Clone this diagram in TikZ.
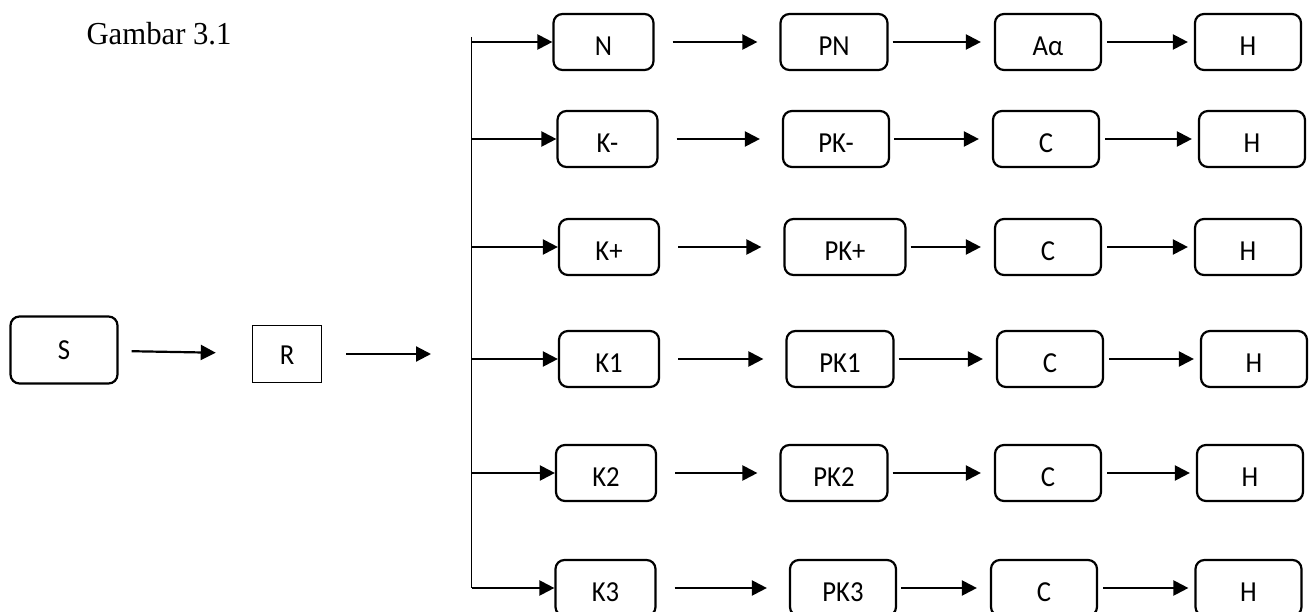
\documentclass[tikz,border=0pt]{standalone}
\usepackage{fontspec}
\newfontfamily\boxfont{Carlito}[FakeStretch=0.92]
\newfontfamily\capfont{Liberation Serif}[FakeStretch=0.96]
\usetikzlibrary{arrows.meta}
\begin{document}
\begin{tikzpicture}[x=1pt,y=-1pt,
  box/.style={draw,line width=2.2pt,rounded corners=9pt,minimum width=106pt,minimum height=56pt,inner sep=0pt,text height=27.5pt,text depth=0pt,font=\boxfont\fontsize{29}{31}\selectfont},
  kbox/.style={box,minimum width=100pt},
  arr/.style={line width=2.2pt,-{Triangle[length=15pt,width=15pt]}},
  farr/.style={arr,shorten <=18pt,shorten >=22pt},
  narr/.style={arr,shorten <=4pt,shorten >=13pt},
  harr/.style={arr,shorten <=5pt,shorten >=6pt}]
\useasboundingbox (0,0) rectangle (1315,612);

\node[anchor=base west,font=\capfont\fontsize{32}{34}\selectfont] (title) at (83,45) {Gambar 3.1};

\node[box,minimum width=107pt,minimum height=67pt,text height=19pt] (S) at (64,350) {S};
\node[box,rounded corners=0pt,line width=1.5pt,minimum width=69pt,minimum height=57pt,text height=22pt] (R) at (287,354) {R};
\coordinate (rend) at (431,354);
\draw[arr,shorten <=13pt,shorten >=36pt] (S) -- (R);
\draw[arr,shorten <=24pt] (R) -- (rend);

\coordinate (top) at (471.5,37);
\coordinate (bot) at (471.5,588);
\draw[line width=1.6pt] (top) -- (bot);

\node[kbox] (N) at (603.5,42) {N};
\node[kbox] (Km) at (607.5,139) {K-};
\node[kbox] (Kp) at (609,247) {K+};
\node[kbox] (K1) at (609,359) {K1};
\node[kbox] (K2) at (606,473) {K2};
\node[kbox] (K3) at (605.5,588) {K3};

\node[box,minimum width=107pt] (PN) at (834,42) {PN};
\node[box] (PKm) at (836,139) {PK-};
\node[box,minimum width=121pt] (PKp) at (845,247) {PK+};
\node[box,minimum width=107pt] (PK1) at (840,359) {PK1};
\node[box,minimum width=107pt] (PK2) at (834,473) {PK2};
\node[box] (PK3) at (843,588) {PK3};

\node[box] (Aa) at (1048,42) {Aα};
\node[box] (Cm) at (1046,139) {C};
\node[box] (Cp) at (1048,247) {C};
\node[box] (C1) at (1050,359) {C};
\node[box] (C2) at (1048,473) {C};
\node[box] (C3) at (1044,588) {C};

\node[box] (HN) at (1248,42) {H};
\node[box] (Hm) at (1252,139) {H};
\node[box] (Hp) at (1248,247) {H};
\node[box] (H1) at (1254,359) {H};
\node[box] (H2) at (1250,473) {H};
\node[box] (H3) at (1248.5,588) {H};

\foreach \k/\p/\c/\h in {N/PN/Aa/HN,Km/PKm/Cm/Hm,Kp/PKp/Cp/Hp,K1/PK1/C1/H1,K2/PK2/C2/H2,K3/PK3/C3/H3}{
  \draw[arr] (top |- \k) -- (\k);
  \draw[farr] (\k) -- (\p);
  \draw[narr] (\p) -- (\c);
  \draw[harr] (\c) -- (\h);
}
\end{tikzpicture}
\end{document}
